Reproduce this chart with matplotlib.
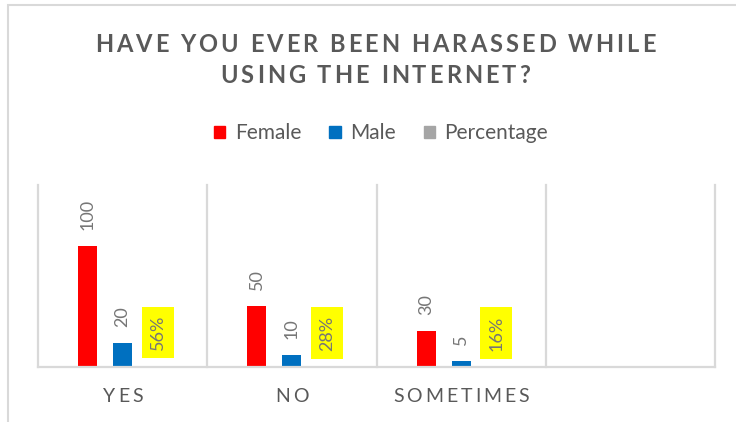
import numpy as np
import matplotlib
matplotlib.use('Agg')
import matplotlib.pyplot as plt
from matplotlib.patches import Rectangle, Patch
from matplotlib.transforms import offset_copy
from matplotlib.font_manager import FontProperties, findfont, get_font
from matplotlib.ft2font import LoadFlags

# survey answers
categories = ['YES', 'NO', 'SOMETIMES', '']
female = [100, 50, 30, np.nan]
male = [20, 10, 5, np.nan]
percentage = [0.56, 0.28, 0.16, np.nan]

title_lines = ['HAVE YOU EVER BEEN HARASSED WHILE', 'USING THE INTERNET?']
series_names = ['Female', 'Male', 'Percentage']

color_female = '#FF0000'
color_male = '#0070C0'
color_pct = '#A5A5A5'
text_grey = '#595959'
label_grey = '#767676'
line_grey = '#D9D9D9'

DPI = 100
W, H = 736, 422
plt.rcParams['font.family'] = ['Lato', 'DejaVu Sans']

fig = plt.figure(figsize=(W / DPI, H / DPI), dpi=DPI)
ax = fig.add_axes([38 / W, 55 / H, 677 / W, 182 / H])


def spaced_text(x, y, s, size, track, transform, weight='normal', color=text_grey):
    # letter-spaced text, one glyph at a time, centred on x
    prop = FontProperties(family='Lato', weight=weight, size=size)
    font = get_font(findfont(prop))
    font.set_size(size, DPI)
    adv = [font.load_char(ord(c), flags=LoadFlags.NO_HINTING).linearHoriAdvance / 65536 for c in s]
    total = sum(adv) + track * (len(s) - 1)
    dx = -total / 2
    for c, a in zip(s, adv):
        t = offset_copy(transform, fig=fig, x=dx, y=0, units='dots')
        fig.text(x, y, c, transform=t, fontproperties=prop, color=color,
                 ha='left', va='baseline')
        dx += a + track


x = np.arange(len(categories))
width = 0.112
step = 0.207

ax.bar(x - step, female, width, color=color_female, label=series_names[0])
ax.bar(x, male, width, color=color_male, label=series_names[1])
ax.bar(x + step, percentage, width, color=color_pct, label=series_names[2])

# value labels, rotated like the spreadsheet version
for xs, vals, fmt, boxed in [(x - step, female, '{:.0f}', False),
                             (x, male, '{:.0f}', False),
                             (x + step, percentage, '{:.0%}', True)]:
    for xi, v in zip(xs, vals):
        if np.isnan(v):
            continue
        kw = {}
        if boxed:
            kw['bbox'] = dict(boxstyle='square,pad=0.45', fc='#FFFF00', ec='none')
        ax.annotate(fmt.format(v), (xi, v), xytext=(0, 16), textcoords='offset pixels',
                    rotation=90, ha='center', va='bottom', fontsize=13,
                    color=label_grey, **kw)

ax.set_xlim(-0.5, len(categories) - 0.5)
ax.set_ylim(0, 150)
for s in ax.spines.values():
    s.set_visible(False)
ax.set_xticks([])
ax.set_yticks([])

# category separators and baseline (baseline sits over the bars)
for edge in np.arange(-0.5, len(categories)):
    ax.axvline(edge, color=line_grey, lw=1.6, clip_on=False, zorder=0)
ax.axhline(0, color=line_grey, lw=1.6, clip_on=False, zorder=3)

# category labels
cat_trans = offset_copy(ax.get_xaxis_transform(), fig=fig, x=0, y=-35, units='dots')
for i, c in enumerate(categories):
    if c:
        px, py = fig.transFigure.inverted().transform(cat_trans.transform((i, 0)))
        spaced_text(px, py, c, 14, 3.0, fig.transFigure)

# title
spaced_text(375 / W, 1 - 52 / H, title_lines[0], 17, 3.0, fig.transFigure, weight='bold')
spaced_text(375 / W, 1 - 83 / H, title_lines[1], 17, 3.0, fig.transFigure, weight='bold')

handles = [Patch(color=color_female), Patch(color=color_male), Patch(color=color_pct)]
fig.legend(handles, series_names, loc='center', bbox_to_anchor=(381 / W, 1 - 133 / H),
           ncol=3, frameon=False, fontsize=15, labelcolor=text_grey,
           handlelength=0.55, handleheight=0.5, handletextpad=0.45, columnspacing=1.35)

# chart frame
fig.patches.append(Rectangle((7.5 / W, -0.1), 2, 1.1 - 5.5 / H, transform=fig.transFigure,
                             fill=False, ec=line_grey, lw=1.5))

fig.savefig('out.png', dpi=DPI)
